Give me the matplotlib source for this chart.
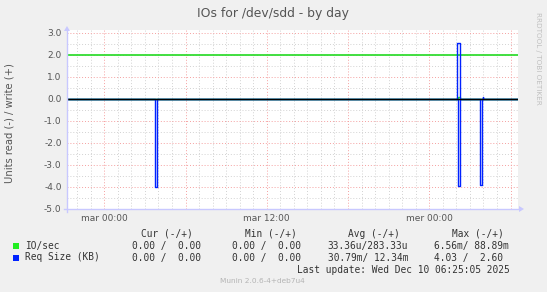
import matplotlib
matplotlib.use("Agg")
import matplotlib.pyplot as plt
from matplotlib.patches import Polygon, Rectangle

# ---------------- data ----------------
# time axis: hours relative to "mar 00:00"
x_min, x_max = -2.75, 30.55
tick_hours = [0, 12, 24]
tick_labels = ["mar 00:00", "mar 12:00", "mer 00:00"]

# Req Size (KB): read plotted negative, write positive (step samples)
req_read_t = [-2.75, 3.75, 3.90, 26.15, 26.25, 27.73, 27.90, 30.55]
req_read_v = [0.0, -4.0, 0.0, -3.97, 0.0, -3.92, 0.0, 0.0]
req_write_t = [-2.75, 26.07, 26.25, 27.93, 28.0, 30.55]
req_write_v = [0.0, 2.58, 0.0, 0.12, 0.0, 0.0]

# IO/sec: read plotted negative, write positive
io_read_t = [-2.75, 26.15, 26.25, 30.55]
io_read_v = [0.0, -0.0066, 0.0, 0.0]
io_write_t = [-2.75, 26.15, 26.25, 30.55]
io_write_v = [0.0, 0.0889, 0.0, 0.0]

ref_level = 2.0  # green horizontal line

y_min, y_max = -5.0, 3.0
y_ticks = [3.0, 2.0, 1.0, 0.0, -1.0, -2.0, -3.0, -4.0, -5.0]

legend_cols = ["Cur (-/+)", "Min (-/+)", "Avg (-/+)", "Max (-/+)"]
series_names = ["IO/sec", "Req Size (KB)"]
series_colors = ["#22ee22", "#0022ff"]
legend_vals = [
    ["0.00 /  0.00", "0.00 /  0.00", "33.36u/283.33u", "6.56m/ 88.89m"],
    ["0.00 /  0.00", "0.00 /  0.00", "30.79m/ 12.34m", "4.03 /  2.60"],
]
title = "IOs for /dev/sdd - by day"
ylabel = "Units read (-) / write (+)"
last_update = "Last update: Wed Dec 10 06:25:05 2025"
footer = "Munin 2.0.6-4+deb7u4"
watermark = "RRDTOOL / TOBI OETIKER"

# ---------------- figure ----------------
W, H = 547, 292
fig = plt.figure(figsize=(W / 100, H / 100), dpi=100, facecolor="#f0f0f0")

def fx(px):
    return px / W

def fy(py):
    return 1 - py / H

ax_left, ax_right, ax_top, ax_bot = 67, 518, 30, 209
ax = fig.add_axes([fx(ax_left), fy(ax_bot), fx(ax_right - ax_left), (ax_bot - ax_top) / H])
ax.set_facecolor("white")
px_per_unit = (ax_bot - 33.3) / (y_max - y_min)
ax.set_ylim(y_min, y_max + (33.3 - ax_top) / px_per_unit)
ax.set_xlim(x_min, x_max)
for s in ax.spines.values():
    s.set_visible(False)
ax.set_xticks([])
ax.set_yticks([])

dot = (0, (1, 2))
# minor grid (hourly / 0.5)
h = int(x_min) - 1
while h <= x_max:
    if h >= x_min and h % 6 != 0:
        ax.axvline(h, color="#d2d2d2", lw=0.7, ls=dot, zorder=1)
    h += 1
v = y_min + 0.5
while v < y_max:
    if abs(v - round(v)) > 0.01:
        ax.axhline(v, color="#d2d2d2", lw=0.7, ls=dot, zorder=1)
    v += 1.0
# major grid
for hh in range(-6, 36, 6):
    if x_min <= hh <= x_max:
        ax.axvline(hh, color="#f5a0a0", lw=0.7, ls=dot, zorder=1)
for yt in y_ticks:
    ax.axhline(yt, color="#f5a0a0", lw=0.7, ls=dot, zorder=1)

# lines
ax.axhline(ref_level, color="#33dd33", lw=1.3, zorder=3)
ax.plot(io_read_t, io_read_v, drawstyle="steps-post", color=series_colors[0], lw=1, zorder=4)
ax.plot(io_write_t, io_write_v, drawstyle="steps-post", color=series_colors[0], lw=1, zorder=4)
ax.plot(req_read_t, req_read_v, drawstyle="steps-post", color=series_colors[1], lw=1, zorder=5)
ax.plot(req_write_t, req_write_v, drawstyle="steps-post", color=series_colors[1], lw=1, zorder=5)
ax.axhline(0, color="black", lw=1.0, zorder=6)

# tick labels
tick_col = "#555555"
for yt in y_ticks:
    ax.text(-0.012, yt, f"{yt:.1f}", transform=ax.get_yaxis_transform(), ha="right", va="center",
            fontsize=6.5, color=tick_col, family="DejaVu Sans")
for th, tl in zip(tick_hours, tick_labels):
    ax.text(th, -0.03, tl, transform=ax.get_xaxis_transform(), ha="center", va="top",
            fontsize=6.5, color=tick_col, family="DejaVu Sans")

# axis lines with arrows (light blue)
axis_col = "#c8c8ff"
fig.add_artist(plt.Line2D([fx(ax_left), fx(ax_left)], [fy(ax_bot + 3), fy(30)], color=axis_col, lw=1))
fig.add_artist(plt.Line2D([fx(ax_left - 3), fx(ax_right + 2)], [fy(ax_bot), fy(ax_bot)], color=axis_col, lw=1))
fig.add_artist(Polygon([[fx(ax_left - 3), fy(31)], [fx(ax_left + 3), fy(31)], [fx(ax_left), fy(26)]],
                       closed=True, transform=fig.transFigure, color=axis_col, lw=0))
fig.add_artist(Polygon([[fx(ax_right + 1), fy(ax_bot - 3)], [fx(ax_right + 1), fy(ax_bot + 3)], [fx(ax_right + 6), fy(ax_bot)]],
                       closed=True, transform=fig.transFigure, color=axis_col, lw=0))

# texts
fig.text(fx(273.3), fy(14), title, ha="center", va="center", fontsize=8.9, color="#555555", family="DejaVu Sans")
fig.text(fx(10), fy(123), ylabel, ha="center", va="center", rotation=90, fontsize=7.2, color="#555555",
         family="DejaVu Sans")
fig.text(fx(538), fy(58), watermark, ha="center", va="center", rotation=-90, fontsize=5.2, color="#c0c0c0",
         family="DejaVu Sans")

mono = "DejaVu Sans Mono"
fs = 6.85
txt_col = "#333333"
col_x = [141, 245, 348, 452]
for cx, c in zip(col_x, legend_cols):
    fig.text(fx(cx), fy(234), c, ha="left", va="center", fontsize=fs, family=mono, color=txt_col)
row_y = [245.5, 257.5]
val_x = [131.5, 232.5, 327.5, 434]
for ry, name, colr, vals in zip(row_y, series_names, series_colors, legend_vals):
    fig.add_artist(Rectangle((fx(13), fy(ry + 3)), fx(6), 6 / H, transform=fig.transFigure,
                             facecolor=colr, edgecolor="none"))
    fig.text(fx(25), fy(ry), name, ha="left", va="center", fontsize=fs, family=mono, color=txt_col)
    for vx, val in zip(val_x, vals):
        fig.text(fx(vx), fy(ry), val, ha="left", va="center", fontsize=fs, family=mono, color=txt_col)
fig.text(fx(509.5), fy(270), last_update, ha="right", va="center", fontsize=fs, family=mono, color=txt_col)
fig.text(fx(262), fy(281), footer, ha="center", va="center", fontsize=5.3, color="#b4b4b4", family="DejaVu Sans")

fig.savefig("out.png", dpi=100, facecolor=fig.get_facecolor())
